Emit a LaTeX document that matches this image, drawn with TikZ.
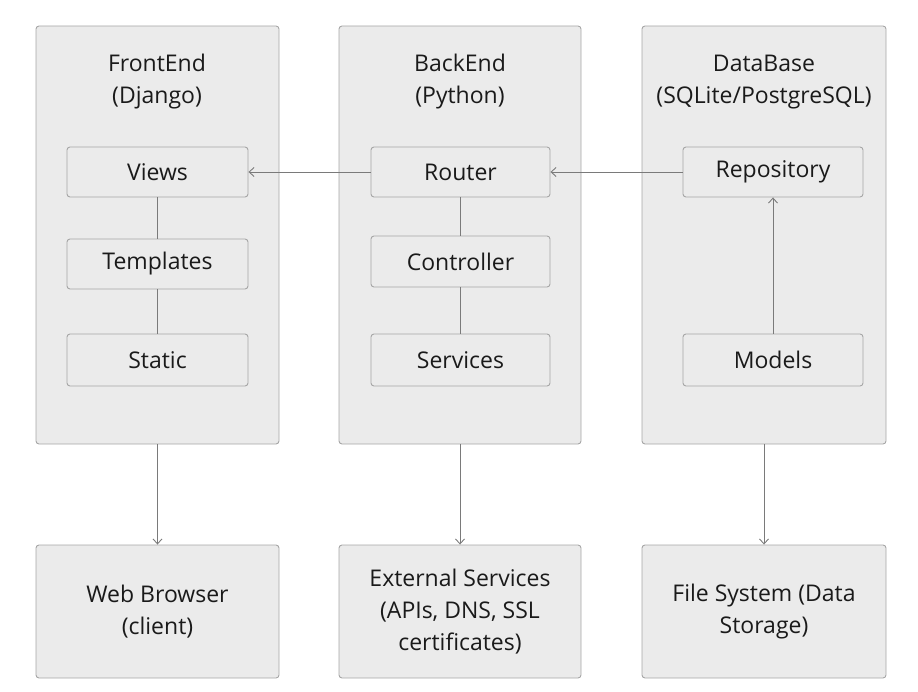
\documentclass[tikz,border=0pt]{standalone}
\usepackage{fontspec}
\setmainfont{Open Sans}
\usetikzlibrary{arrows.meta}
\definecolor{boxfill}{HTML}{EBEBEB}
\definecolor{boxline}{HTML}{A6A6A6}
\definecolor{arrowc}{HTML}{7A7A7A}
\definecolor{txt}{HTML}{1A1A1A}
\tikzset{
  x=1pt, y=-1pt,
  container/.style={draw=boxline, fill=boxfill, rounded corners=3pt, line width=0.9pt, inner sep=0pt},
  innerbox/.style={draw=boxline, fill=boxfill, rounded corners=3pt, line width=0.9pt},
  lbl/.style={text=txt, font=\fontsize{23}{32}\selectfont, align=center},
  conn/.style={draw=arrowc, line width=0.9pt},
  arr/.style={conn, -{Straight Barb[length=5pt,width=9pt,line width=0.9pt]}},
}
\begin{document}
\begin{tikzpicture}
\useasboundingbox (0,0) rectangle (918,692);
% containers
\node[container, minimum width=243pt, minimum height=418pt] (fe) at (157.5,235) {};
\node[container, minimum width=242pt, minimum height=418pt] (be) at (460,235) {};
\node[container, minimum width=244pt, minimum height=418pt] (db) at (764,235) {};
\node[lbl] (feT) at (157,82) {FrontEnd\\(Django)};
\node[lbl] (beT) at (460,82) {BackEnd\\(Python)};
\node[lbl] (dbT) at (764,82) {DataBase\\(SQLite/PostgreSQL)};
% inner boxes
\node[innerbox, lbl, minimum width=181pt, minimum height=50pt] (views) at (157.5,172) {Views};
\node[innerbox, lbl, minimum width=181pt, minimum height=50pt] (templates) at (157.5,264) {Templates};
\node[innerbox, lbl, minimum width=181pt, minimum height=52pt] (static) at (157.5,360) {Static};
\node[innerbox, lbl, minimum width=179pt, minimum height=50pt] (router) at (460.5,172) {Router};
\node[innerbox, lbl, minimum width=179pt, minimum height=51pt] (controller) at (460.5,261.5) {Controller};
\node[innerbox, lbl, minimum width=179pt, minimum height=52pt] (services) at (460.5,360) {Services};
\node[innerbox, lbl, minimum width=180pt, minimum height=50pt] (repo) at (773,172) {Repository};
\node[innerbox, lbl, minimum width=180pt, minimum height=52pt] (models) at (773,360) {Models};
% bottom boxes
\node[container, lbl, minimum width=243pt, minimum height=133pt] (web) at (157.5,611.5) {Web Browser\\(client)};
\node[container, lbl, minimum width=242pt, minimum height=133pt] (ext) at (460,611.5) {External Services\\(APIs, DNS, SSL\\certificates)};
\node[container, lbl, minimum width=244pt, minimum height=133pt] (fs) at (764,611.5) {File System (Data\\Storage)};
% connectors
\draw[arr] (router.west) -- (views.east);
\draw[arr] (repo.west) -- (router.east);
\draw[arr] (models.north) -- (repo.south);
\draw[conn] (views.south) -- (templates.north);
\draw[conn] (templates.south) -- (static.north);
\draw[conn] (router.south) -- (controller.north);
\draw[conn] (controller.south) -- (services.north);
\draw[arr] (fe.south) -- (web.north);
\draw[arr] (be.south) -- (ext.north);
\draw[arr] (db.south) -- (fs.north);
\end{tikzpicture}
\end{document}
